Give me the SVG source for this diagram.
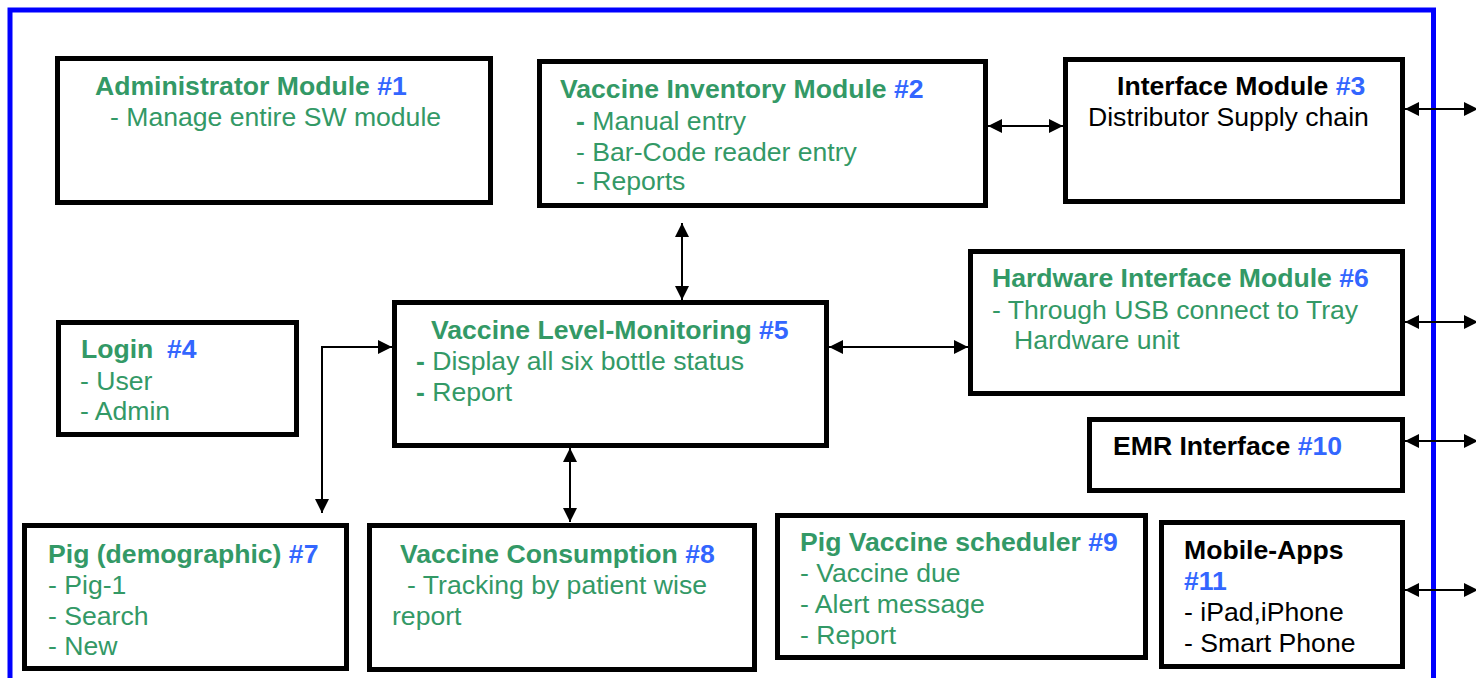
<svg xmlns="http://www.w3.org/2000/svg" width="1476" height="678" viewBox="0 0 1476 678">
<style>
text{font-family:"Liberation Sans",Arial,sans-serif;font-size:26.6px;fill:#339966}
.t{font-weight:bold}
.n{fill:#3366FF;font-weight:bold}
.k{fill:#000000}
.b{font-weight:bold}
.box{fill:#FFFFFF;stroke:#000000;stroke-width:5}
.c{fill:none;stroke:#000000;stroke-width:2}
</style>
<defs>
<marker id="ah" viewBox="0 0 14 14" refX="14" refY="7" markerWidth="14" markerHeight="14" markerUnits="userSpaceOnUse" orient="auto-start-reverse">
<path d="M0,0 L14,7 L0,14 z" fill="#000000"/>
</marker>
</defs>
<rect x="0" y="0" width="1476" height="678" fill="#FFFFFF"/>
<rect id="frame" x="10" y="10" width="1423.5" height="700" fill="none" stroke="#0000FF" stroke-width="5"/>
<g id="connectors">
<line class="c" x1="988" y1="126" x2="1063" y2="126" marker-start="url(#ah)" marker-end="url(#ah)"/>
<line class="c" x1="682" y1="223" x2="682" y2="300" marker-start="url(#ah)" marker-end="url(#ah)"/>
<line class="c" x1="829" y1="347" x2="968" y2="347" marker-start="url(#ah)" marker-end="url(#ah)"/>
<line class="c" x1="570" y1="448" x2="570" y2="522" marker-start="url(#ah)" marker-end="url(#ah)"/>
<path class="c" d="M322,513 V347 H392" marker-start="url(#ah)" marker-end="url(#ah)"/>
<line class="c" x1="1405" y1="109" x2="1478" y2="109" marker-start="url(#ah)" marker-end="url(#ah)"/>
<line class="c" x1="1405" y1="322" x2="1478" y2="322" marker-start="url(#ah)" marker-end="url(#ah)"/>
<line class="c" x1="1405" y1="441" x2="1478" y2="441" marker-start="url(#ah)" marker-end="url(#ah)"/>
<line class="c" x1="1405" y1="590" x2="1478" y2="590" marker-start="url(#ah)" marker-end="url(#ah)"/>
</g>
<g id="n1">
<rect class="box" x="57.5" y="58.5" width="433" height="144"/>
<text x="95" y="95" class="t">Administrator Module <tspan class="n">#1</tspan></text>
<text x="110" y="126">- Manage entire SW module</text>
</g>
<g id="n2">
<rect class="box" x="539.5" y="61.5" width="446" height="144"/>
<text x="560" y="98" class="t">Vaccine Inventory Module <tspan class="n">#2</tspan></text>
<text x="576" y="130"><tspan class="b">-</tspan> Manual entry</text>
<text x="576" y="161">- Bar-Code reader entry</text>
<text x="576" y="190">- Reports</text>
</g>
<g id="n3">
<rect class="box" x="1065.5" y="59.5" width="337" height="142"/>
<text x="1117" y="95" class="t k">Interface Module <tspan class="n">#3</tspan></text>
<text x="1088" y="126" class="k">Distributor Supply chain</text>
</g>
<g id="n4">
<rect class="box" x="58.5" y="322.5" width="238" height="112"/>
<text x="81" y="358" class="t">Login<tspan x="167" class="n">#4</tspan></text>
<text x="80" y="390">- User</text>
<text x="80" y="420">- Admin</text>
</g>
<g id="n5">
<rect class="box" x="394.5" y="302.5" width="432" height="143"/>
<text x="431" y="339" class="t">Vaccine Level-Monitoring <tspan class="n">#5</tspan></text>
<text x="416" y="370"><tspan class="b">-</tspan> Display all six bottle status</text>
<text x="416" y="401"><tspan class="b">-</tspan> Report</text>
</g>
<g id="n6">
<rect class="box" x="970.5" y="251.5" width="432" height="142"/>
<text x="992" y="287" class="t">Hardware Interface Module <tspan class="n">#6</tspan></text>
<text x="992" y="319">- Through USB connect to Tray</text>
<text x="1014" y="349">Hardware unit</text>
</g>
<g id="n7">
<rect class="box" x="24.5" y="525.5" width="322" height="143"/>
<text x="48" y="563" class="t">Pig (demographic) <tspan class="n">#7</tspan></text>
<text x="48" y="594">- Pig-1</text>
<text x="48" y="625">- Search</text>
<text x="48" y="655">- New</text>
</g>
<g id="n8">
<rect class="box" x="369.5" y="525.5" width="385" height="144"/>
<text x="400" y="563" class="t">Vaccine Consumption <tspan class="n">#8</tspan></text>
<text x="407" y="594">- Tracking by patient wise</text>
<text x="392" y="625">report</text>
</g>
<g id="n9">
<rect class="box" x="777.5" y="515.5" width="368" height="142"/>
<text x="800" y="551" class="t">Pig Vaccine scheduler <tspan class="n">#9</tspan></text>
<text x="800" y="582">- Vaccine due</text>
<text x="800" y="613">- Alert message</text>
<text x="800" y="644">- Report</text>
</g>
<g id="n10">
<rect class="box" x="1089.5" y="419.5" width="313" height="71"/>
<text x="1113" y="455" class="t k">EMR Interface <tspan class="n">#10</tspan></text>
</g>
<g id="n11">
<rect class="box" x="1161.5" y="522.5" width="241" height="144"/>
<text x="1184" y="559" class="t k">Mobile-Apps</text>
<text x="1184" y="590" class="n">#11</text>
<text x="1184" y="621" class="k">- iPad,iPhone</text>
<text x="1184" y="652" class="k">- Smart Phone</text>
</g>
</svg>
